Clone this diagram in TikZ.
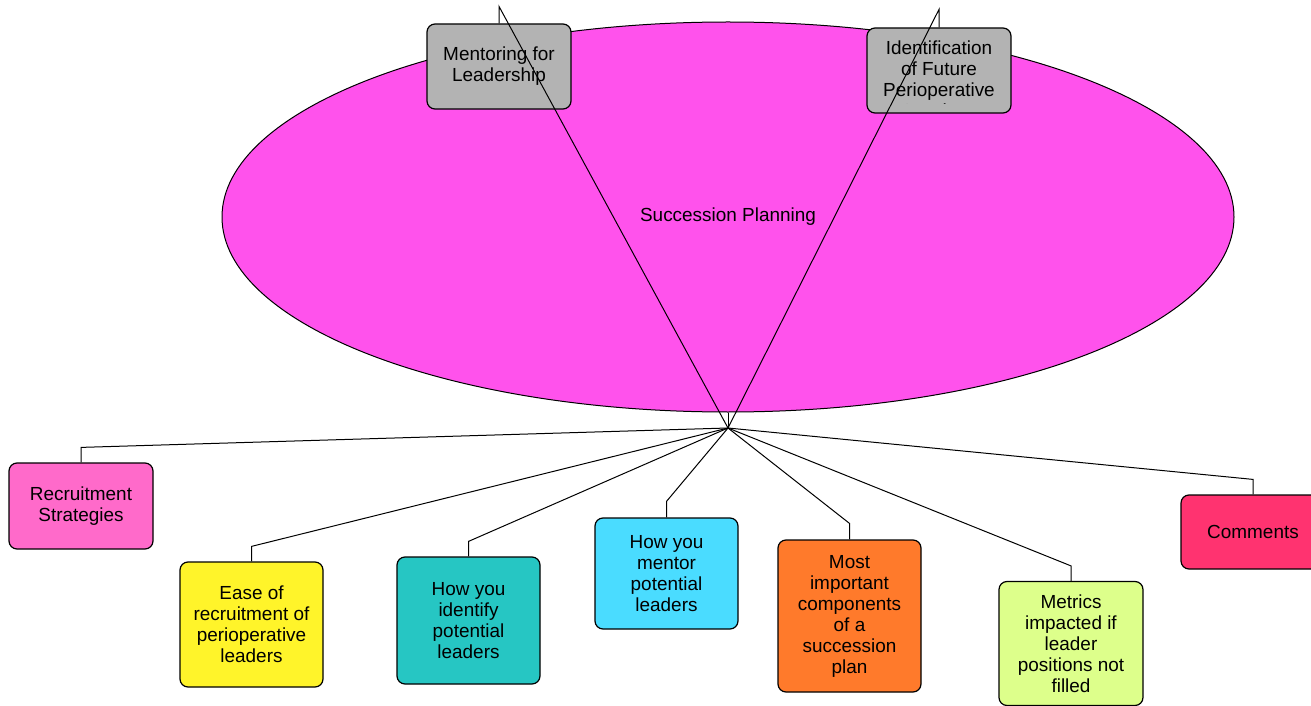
\documentclass[tikz,border=0pt]{standalone}
\usepackage{fontspec}
\setmainfont{Liberation Sans}
\usetikzlibrary{shapes.geometric}
\definecolor{ellfill}{HTML}{FF52EC}
\definecolor{grayfill}{HTML}{B3B3B3}
\definecolor{recfill}{HTML}{FF6ACA}
\definecolor{easefill}{HTML}{FFF42A}
\definecolor{idfill}{HTML}{26C6C3}
\definecolor{mentfill}{HTML}{4ADCFF}
\definecolor{mostfill}{HTML}{FF7A2B}
\definecolor{metfill}{HTML}{DDFF8B}
\definecolor{comfill}{HTML}{FF3370}
\tikzset{
  box/.style={draw=black, line width=0.9pt, rounded corners=6pt, align=center,
    inner sep=0pt, font=\fontsize{14.2pt}{15.75pt}\selectfont},
  link/.style={draw=black, line width=0.75pt},
  lbl/.style={align=center, inner sep=0pt, font=\fontsize{14.2pt}{15.75pt}\selectfont}
}
\begin{document}
\begin{tikzpicture}[x=0.75pt, y=-0.75pt]
\useasboundingbox (0,0) rectangle (1311,706);
\node[ellipse, draw=black, line width=0.75pt, fill=ellfill, minimum width=1012*0.75pt, minimum height=390*0.75pt, inner sep=0pt, font=\fontsize{14.2pt}{15.75pt}\selectfont] (sp) at (728,217) {Succession Planning};
\coordinate (hub) at (728,428);

\node[box, fill=grayfill, minimum width=144*0.75pt, minimum height=85*0.75pt] (mfl) at (499,66.5) {Mentoring for\\Leadership};
\node[box, fill=grayfill, minimum width=144*0.75pt, minimum height=85*0.75pt] (ifp) at (939,70.5) {};
\begin{scope}
\clip (868,29) rectangle (1010,104);
\node[lbl] (ifptext) at (939,79) {Identification\\of Future\\Perioperative\\Leaders};
\end{scope}

\node[box, fill=recfill, minimum width=144*0.75pt, minimum height=86*0.75pt] (rec) at (81,506) {Recruitment\\Strategies};
\node[box, fill=easefill, minimum width=143*0.75pt, minimum height=125*0.75pt] (ease) at (251.5,624.5) {Ease of\\recruitment of\\perioperative\\leaders};
\node[box, fill=idfill, minimum width=143*0.75pt, minimum height=127*0.75pt] (ident) at (468.5,620.5) {How you\\identify\\potential\\leaders};
\node[box, fill=mentfill, minimum width=143*0.75pt, minimum height=111*0.75pt] (ment) at (666.5,573.5) {How you\\mentor\\potential\\leaders};
\node[box, fill=mostfill, minimum width=143*0.75pt, minimum height=152*0.75pt] (most) at (849.5,616) {Most\\important\\components\\of a\\succession\\plan};
\node[box, fill=metfill, minimum width=144*0.75pt, minimum height=124*0.75pt] (met) at (1071,643.5) {Metrics\\impacted if\\leader\\positions not\\filled};
\node[box, fill=comfill, minimum width=144*0.75pt, minimum height=74*0.75pt] (com) at (1253,532) {Comments};

\draw[link] (sp.south) -- (hub);
\draw[link] (mfl.north) -- ++(0,-17) -- (hub);
\draw[link] (ifp.north) -- ++(0,-18) -- (hub);
\draw[link] (rec.north) -- ++(0,-15) -- (hub);
\draw[link] (ease.north) -- ++(0,-15) -- (hub);
\draw[link] (ident.north) -- ++(0,-15) -- (hub);
\draw[link] (ment.north) -- ++(0,-16) -- (hub);
\draw[link] (most.north) -- ++(0,-16) -- (hub);
\draw[link] (met.north) -- ++(0,-15) -- (hub);
\draw[link] (com.north) -- ++(0,-15) -- (hub);
\end{tikzpicture}
\end{document}
